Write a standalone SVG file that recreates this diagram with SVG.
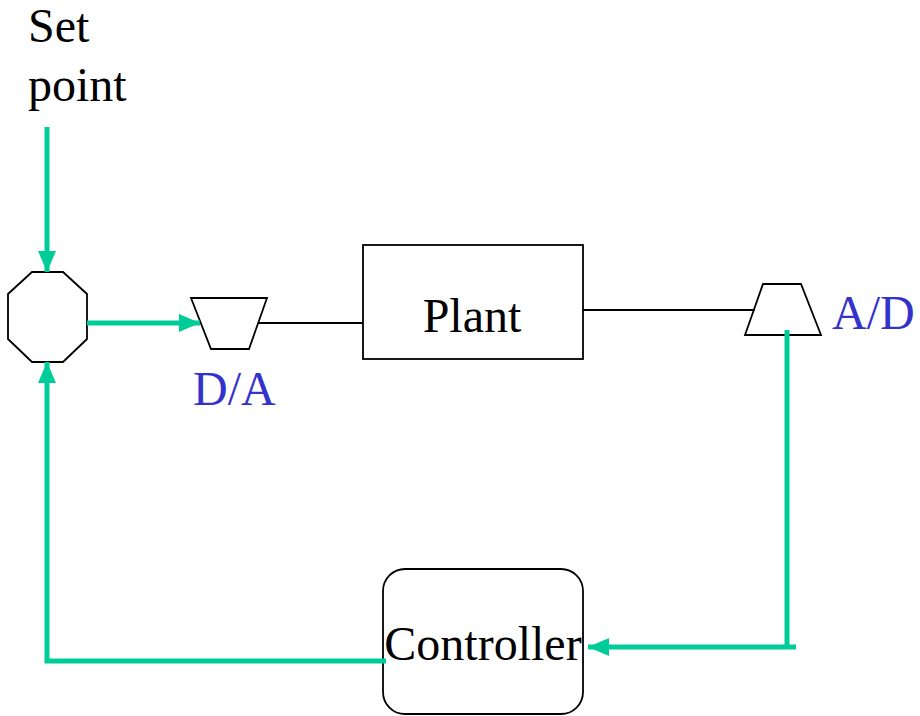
<svg xmlns="http://www.w3.org/2000/svg" width="920" height="716" viewBox="0 0 920 716">
  <style>
    .shape { fill: #ffffff; stroke: #000000; stroke-width: 1.8; }
    .wire { fill: none; stroke: #000000; stroke-width: 1.8; }
    .flow { fill: none; stroke: #00CC99; stroke-width: 5; }
    .lbl { font-family: "Liberation Serif", "Times New Roman", serif; font-size: 48px; fill: #000000; }
    .conv { font-family: "Liberation Serif", "Times New Roman", serif; font-size: 48px; fill: #3333CC; }
  </style>
  <defs>
    <marker id="arr" markerUnits="userSpaceOnUse" markerWidth="22" markerHeight="18" viewBox="0 0 22 18" refX="21" refY="9" orient="auto">
      <polygon points="0,0 21,9 0,18" fill="#00CC99"/>
    </marker>
  </defs>
  <rect width="920" height="716" fill="#ffffff"/>

  <g id="setpoint-label">
    <text class="lbl" x="28" y="42">Set</text>
    <text class="lbl" x="28" y="101">point</text>
  </g>

  <g id="summing-junction">
    <polygon class="shape" points="32,272 63,272 87,294 87,339 63,362 32,362 8,339 8,294"/>
  </g>

  <g id="da-converter">
    <polygon class="shape" points="191,298 267,298 249,349 211,349"/>
    <text class="conv" x="193" y="405">D/A</text>
  </g>

  <g id="plant">
    <rect class="shape" x="363" y="245" width="220" height="114"/>
    <text class="lbl" x="472" y="332" text-anchor="middle">Plant</text>
  </g>

  <g id="ad-converter">
    <polygon class="shape" points="763,284 801,284 821,335 745,335"/>
    <text class="conv" x="832" y="329">A/D</text>
  </g>

  <g id="controller">
    <rect class="shape" x="383" y="569" width="200" height="145" rx="22" ry="22"/>
    <text class="lbl" x="483" y="660" text-anchor="middle">Controller</text>
  </g>

  <g id="connectors">
    <line class="wire" x1="259" y1="323" x2="363" y2="323"/>
    <line class="wire" x1="583" y1="310" x2="755" y2="310"/>
    <path class="flow" d="M47,127 V272" marker-end="url(#arr)"/>
    <path class="flow" d="M87,323 H200" marker-end="url(#arr)"/>
    <path class="flow" d="M386,661 H47 V362" marker-end="url(#arr)"/>
    <path class="flow" d="M787,330 V649"/>
    <path class="flow" d="M796,647 H588" marker-end="url(#arr)"/>
  </g>
</svg>
